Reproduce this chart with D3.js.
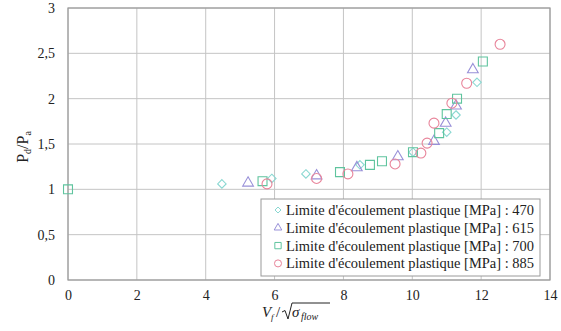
<!DOCTYPE html>
<html><head><meta charset="utf-8">
<script src="https://cdn.jsdelivr.net/npm/d3@7"></script>
<style>body{margin:0;background:#fff}svg{display:block}svg text{font-family:"Liberation Serif","Times New Roman","DejaVu Serif",serif}</style>
</head><body>
<svg id="c" width="561" height="331"></svg>
<script>
const xTicks = [0,2,4,6,8,10,12,14];
const yTicks = [0,0.5,1,1.5,2,2.5,3];
const seriesNames = ["Limite d'écoulement plastique [MPa] : 470","Limite d'écoulement plastique [MPa] : 615","Limite d'écoulement plastique [MPa] : 700","Limite d'écoulement plastique [MPa] : 885"];
const s470x = [4.47,5.92,6.91,8.48,10.02,11.0,11.27,11.88];
const s470y = [1.06,1.12,1.17,1.27,1.41,1.63,1.82,2.18];
const s615x = [5.23,7.22,8.39,9.58,10.63,10.97,11.27,11.76];
const s615y = [1.07,1.15,1.24,1.36,1.53,1.73,1.92,2.32];
const s700x = [0,5.65,7.9,8.77,9.12,10.02,10.78,11.0,11.3,12.05];
const s700y = [1.0,1.09,1.19,1.27,1.31,1.41,1.62,1.83,2.0,2.41];
const s885x = [5.78,7.22,8.13,9.5,10.25,10.43,10.63,11.15,11.58,12.55];
const s885y = [1.06,1.12,1.17,1.28,1.40,1.51,1.73,1.95,2.17,2.60];

const svg = d3.select("#c");
const L=68,R=550,T=8,B=280;
const x = d3.scaleLinear().domain([0,14]).range([L,R]);
const y = d3.scaleLinear().domain([0,3]).range([B,T]);

// grid
svg.append("g").selectAll("line").data(xTicks).join("line")
  .attr("x1",d=>x(d)).attr("x2",d=>x(d)).attr("y1",T).attr("y2",B)
  .attr("stroke","#c4c4c4").attr("stroke-width",1);
svg.append("g").selectAll("line").data(yTicks).join("line")
  .attr("x1",L).attr("x2",R).attr("y1",d=>y(d)).attr("y2",d=>y(d))
  .attr("stroke","#c4c4c4").attr("stroke-width",1);
svg.append("rect").attr("x",L).attr("y",T).attr("width",R-L).attr("height",B-T)
  .attr("fill","none").attr("stroke","#9a9a9a").attr("stroke-width",1.2);

const fmt = d=>String(d).replace(".",",");
const xa = svg.append("g").attr("transform",`translate(0,${B})`)
  .call(d3.axisBottom(x).tickValues(xTicks).tickFormat(fmt).tickSize(0).tickPadding(10));
const ya = svg.append("g").attr("transform",`translate(${L},0)`)
  .call(d3.axisLeft(y).tickValues(yTicks).tickFormat(fmt).tickSize(0).tickPadding(13));
[xa,ya].forEach(a=>{a.select(".domain").remove();
  a.attr("font-family",null);
  a.selectAll("text").attr("font-size",14).attr("fill","#222");});

// square-ish diamond
const diamond = {draw(ctx,size){const r=Math.sqrt(size/2);ctx.moveTo(0,-r);ctx.lineTo(r,0);ctx.lineTo(0,r);ctx.lineTo(-r,0);ctx.closePath();}};

const series = [
 {xs:s470x,ys:s470y,type:diamond,size:36,color:"#8ad8d2"},
 {xs:s615x,ys:s615y,type:d3.symbolTriangle,size:50,color:"#9890d8"},
 {xs:s700x,ys:s700y,type:d3.symbolSquare,size:80,color:"#5fc49e"},
 {xs:s885x,ys:s885y,type:d3.symbolCircle,size:78,color:"#e8849a"}
];
series.forEach(s=>{
  svg.append("g").selectAll("path").data(s.xs.map((v,i)=>[v,s.ys[i]])).join("path")
   .attr("transform",d=>`translate(${x(d[0])},${y(d[1])})`)
   .attr("d",d3.symbol().type(s.type).size(s.size))
   .attr("fill","none").attr("stroke",s.color).attr("stroke-width",1.1);
});

// legend
const lg = svg.append("g");
lg.append("rect").attr("x",261).attr("y",199).attr("width",279).attr("height",77)
  .attr("fill","#fff").attr("stroke","#9a9a9a").attr("stroke-width",1);
series.forEach((s,i)=>{
  const yy = 210 + i*17.8;
  lg.append("path").attr("transform",`translate(278,${yy})`)
    .attr("d",d3.symbol().type(s.type).size(s.size*0.5))
    .attr("fill","none").attr("stroke",s.color).attr("stroke-width",1);
  lg.append("text").attr("x",286).attr("y",yy+5).text(seriesNames[i])
    .attr("font-size",15).attr("textLength",248).attr("lengthAdjust","spacingAndGlyphs")
    .attr("fill","#222");
});

// x label: V_f / sqrt(sigma_flow)
const xl = svg.append("g").attr("fill","#222").attr("font-style","italic");
const bl = 317;
xl.append("text").attr("x",262).attr("y",bl).attr("font-size",15).text("V");
xl.append("text").attr("x",271).attr("y",bl+3).attr("font-size",9).text("f");
xl.append("text").attr("x",276).attr("y",bl).attr("font-size",15).attr("font-style","normal").text("/");
svg.append("path").attr("d",`M282,${bl-5} L285,${bl-6.5} L288,${bl+2} L292,${bl-14} L330,${bl-14}`)
  .attr("fill","none").attr("stroke","#222").attr("stroke-width",1);
xl.append("text").attr("x",292).attr("y",bl).attr("font-size",15).text("σ");
xl.append("text").attr("x",301).attr("y",bl+3).attr("font-size",10).text("flow");

// y label
const ylg = svg.append("g").attr("transform","translate(28,147) rotate(-90)");
const yt = ylg.append("text").attr("font-size",16).attr("fill","#222").attr("text-anchor","middle");
yt.append("tspan").text("P");
yt.append("tspan").attr("font-size",10).attr("dy",3).text("d");
yt.append("tspan").attr("dy",-3).text("/P");
yt.append("tspan").attr("font-size",10).attr("dy",3).text("a");
</script>
</body></html>
